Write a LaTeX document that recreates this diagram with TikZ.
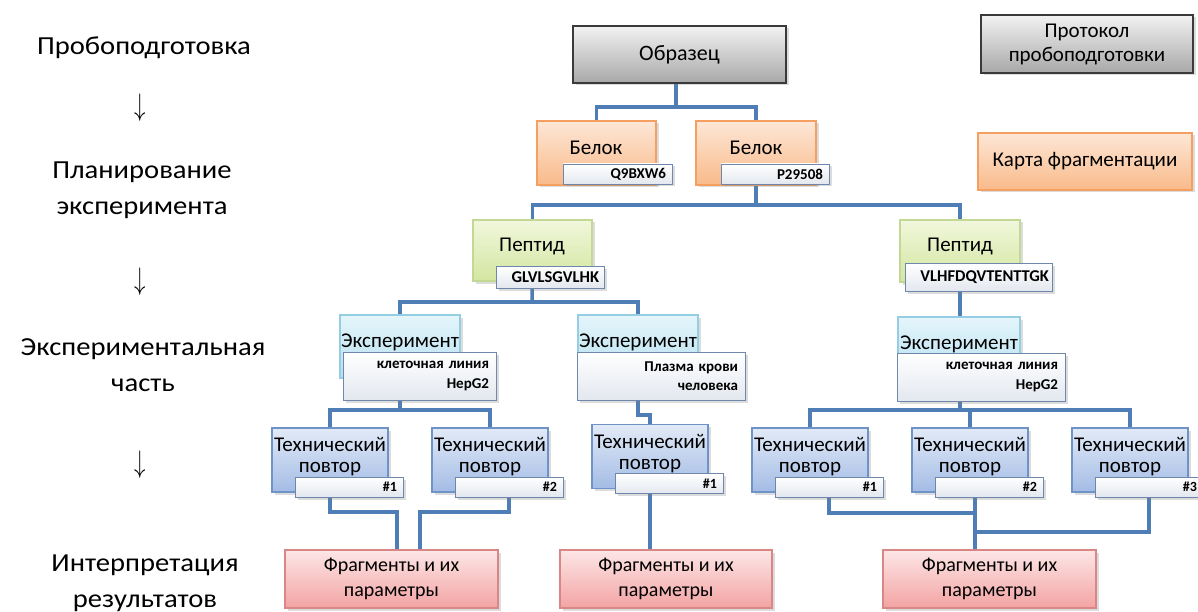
\documentclass[tikz,border=0pt]{standalone}
\usepackage{fontspec}
\setmainfont{Carlito}
\newfontfamily\widefont{Carlito}[FakeStretch=1.1]
\usetikzlibrary{shadows,calc}
\pgfdeclarelayer{bg}
\pgfsetlayers{bg,main}
\definecolor{connC}{HTML}{4F7DB6}
\definecolor{grayT}{HTML}{F2F2F2}\definecolor{grayB}{HTML}{A8A8A8}\definecolor{grayD}{HTML}{3A3A3A}
\definecolor{orT}{HTML}{FDE7D6}\definecolor{orB}{HTML}{F9BA8A}\definecolor{orD}{HTML}{F5A060}
\definecolor{grT}{HTML}{F1F7DC}\definecolor{grB}{HTML}{D3E6A0}\definecolor{grD}{HTML}{C3D894}
\definecolor{cyT}{HTML}{E5F5FB}\definecolor{cyB}{HTML}{B5E0EF}\definecolor{cyD}{HTML}{95CEE2}
\definecolor{blT}{HTML}{E2EAF7}\definecolor{blB}{HTML}{A3BCE5}\definecolor{blD}{HTML}{6F93C8}
\definecolor{rdT}{HTML}{FDE6E6}\definecolor{rdB}{HTML}{F3A3A3}\definecolor{rdD}{HTML}{D98686}
\definecolor{tgT}{HTML}{FFFFFF}\definecolor{tgB}{HTML}{E3E8EF}\definecolor{tgD}{HTML}{6F86AD}
\tikzset{
  boxbase/.style={draw, line width=1.1pt, inner sep=0pt,
    drop shadow={shadow xshift=2.5pt, shadow yshift=-2.5pt, opacity=0.28}},
  graybox/.style={boxbase, top color=grayT, bottom color=grayB, draw=grayD, line width=1.3pt,
    font=\fontsize{21}{24}\selectfont, align=center},
  orbox/.style={boxbase, top color=orT, bottom color=orB, draw=orD,
    font=\fontsize{21}{24}\selectfont, align=center},
  grbox/.style={boxbase, top color=grT, bottom color=grB, draw=grD},
  cybox/.style={boxbase, top color=cyT, bottom color=cyB, draw=cyD},
  bluebox/.style={boxbase, top color=blT, bottom color=blB, draw=blD},
  rdbox/.style={boxbase, top color=rdT, bottom color=rdB, draw=rdD,
    font=\fontsize{20}{25}\selectfont, align=center},
  tag/.style={boxbase, top color=tgT, bottom color=tgB, draw=tgD, line width=0.9pt,
    inner xsep=6pt, inner ysep=0pt, align=right, font=\bfseries\fontsize{14}{15}\selectfont},
  txt/.style={inner sep=0pt, font=\fontsize{21}{21}\selectfont, align=center},
  lab/.style={inner sep=0pt, font=\widefont\fontsize{26}{36}\selectfont, align=center},
  arr/.style={inner sep=0pt, font=\fontsize{20}{20}\selectfont},
  conn/.style={draw=connC, line width=3.5pt}
}
\begin{document}
\begin{tikzpicture}[x=1pt,y=-1pt]
\useasboundingbox (0,0) rectangle (1198,612);
\clip (0,0) rectangle (1198,612);

% left labels
\node[lab] (l1) at (144,48) {Пробоподготовка};
\node[arr] (a1) at (140,108) {\scalebox{1.1}[1.5]{$\downarrow$}};
\node[lab] (l2) at (142,190) {Планирование\\эксперимента};
\node[arr] (a2) at (140,282) {\scalebox{1.1}[1.5]{$\downarrow$}};
\node[lab] (l3) at (143,365) {Экспериментальная\\часть};
\node[arr] (a3) at (140,465) {\scalebox{1.1}[1.5]{$\downarrow$}};
\node[lab] (l4) at (145,583) {Интерпретация\\результатов};

% legend
\node[graybox, minimum width=212pt, minimum height=58pt] (prot) at (1087,44) {Протокол\\пробоподготовки};
\node[orbox, minimum width=214pt, minimum height=57pt] (karta) at (1085,161.5) {Карта фрагментации};

% sample
\node[graybox, minimum width=213pt, minimum height=57pt, font=\fontsize{22}{24}\selectfont] (obr) at (679.5,54.5) {Образец};

% proteins
\node[orbox, minimum width=119pt, minimum height=64pt] (b1) at (596.5,153) {};
\node[txt] (b1t) at (596,148) {Белок};
\node[tag, text width=97pt, minimum height=20pt, font=\bfseries\fontsize{15}{15}\selectfont] (b1s) at (617.5,174) {Q9BXW6};
\node[orbox, minimum width=120pt, minimum height=64pt] (b2) at (756,153) {};
\node[txt] (b2t) at (756,148) {Белок};
\node[tag, text width=96pt, minimum height=20pt, font=\bfseries\fontsize{15}{15}\selectfont] (b2s) at (775,174) {P29508};

% peptides
\node[grbox, minimum width=119pt, minimum height=61pt] (p1) at (532.5,250.5) {};
\node[txt] (p1t) at (532,246) {Пептид};
\node[tag, text width=98pt, minimum height=22pt, inner xsep=5pt, font=\bfseries\fontsize{16.5}{17}\selectfont] (p1s) at (550,277) {GLVLSGVLHK};
\node[grbox, minimum width=120pt, minimum height=62pt] (p2) at (960,251) {};
\node[txt] (p2t) at (960,246) {Пептид};
\node[tag, text width=141pt, minimum height=28pt, inner xsep=3pt, font=\bfseries\fontsize{16.5}{17}\selectfont] (p2s) at (978.5,277) {VLHFDQVTENTTGK};

% experiments
\node[cybox, minimum width=120pt, minimum height=63pt] (e1) at (400,346.5) {};
\node[txt] (e1t) at (400,342) {Эксперимент};
\node[tag, text width=139pt, minimum height=48pt, inner xsep=7pt, font=\bfseries\fontsize{15}{19.5}\selectfont] (e1s) at (419.5,376) {клеточная линия\\HepG2};
\node[cybox, minimum width=120pt, minimum height=63pt] (e2) at (638,346.5) {};
\node[txt] (e2t) at (638,342) {Эксперимент};
\node[tag, text width=154pt, minimum height=48pt, inner xsep=7pt, font=\bfseries\fontsize{15}{19.5}\selectfont] (e2s) at (661,376) {Плазма крови\\человека};
\node[cybox, minimum width=122pt, minimum height=62pt] (e3) at (959,348) {};
\node[txt] (e3t) at (959,344) {Эксперимент};
\node[tag, text width=154pt, minimum height=48pt, inner xsep=7pt, font=\bfseries\fontsize{15}{19.5}\selectfont] (e3s) at (981,377) {клеточная линия\\HepG2};

% technical replicates
\foreach \i/\x/\y/\n in {1/330/460/1,2/490/460/2,3/650/456.5/1,4/810/460/1,5/970/460/2,6/1130/460/3}{
  \node[bluebox, minimum width=116pt, minimum height=64pt] (t\i) at (\x,\y) {};
  \node[txt] (tt\i) at (\x,\y-3) {Технический\\повтор};
  \node[tag, text width=96pt, minimum height=20pt] (ts\i) at (\x+19,\y+27) {\#\n};
}

% fragments
\node[rdbox, minimum width=213pt, minimum height=58pt] (f1) at (391.5,579) {Фрагменты и их\\параметры};
\node[rdbox, minimum width=212pt, minimum height=58pt] (f2) at (666,579) {Фрагменты и их\\параметры};
\node[rdbox, minimum width=213pt, minimum height=58pt] (f3) at (989.5,579) {Фрагменты и их\\параметры};

% junctions
\coordinate (j1) at (676,107);
\coordinate (j2) at (756,205);
\coordinate (j3) at (532,302);
\coordinate (j4) at (400,410);
\coordinate (j5) at (650,415);
\coordinate (j6) at (960,410);
\coordinate (k1) at (397,512);
\coordinate (k2) at (420,512);
\coordinate (k3) at (975,513);
\coordinate (k4) at (975,532);

\begin{pgfonlayer}{bg}
\draw[conn] (obr.center -| j1) -- (j1);
\draw[conn] (b1) |- (j1) -| (b2);
\draw[conn] (b2) -- (j2);
\draw[conn] (p1) |- (j2) -| (p2);
\draw[conn] (p1) -- (j3);
\draw[conn] (e1) |- (j3) -| (e2);
\draw[conn] (p2) -- (p2 |- e3);
\draw[conn] (e1) -- (j4);
\draw[conn] (t1) |- (j4) -| (t2);
\draw[conn] (e2) |- (j5) -- (t3);
\draw[conn] (e3.center -| j6) -- (j6);
\draw[conn] (t4) |- (j6) -| (t6);
\draw[conn] (t5) -- (t5 |- j6);
\draw[conn] (t1) |- (k1) -- (k1 |- f1.north);
\draw[conn] (ts2) |- (k2) -- (k2 |- f1.north);
\draw[conn] (t3) -- (t3 |- f2.north);
\draw[conn] (ts4) |- (k3);
\draw[conn] (ts6) |- (k4);
\draw[conn] (k3 |- ts5) -- (k3 |- f3.north);
\end{pgfonlayer}
\end{tikzpicture}
\end{document}
